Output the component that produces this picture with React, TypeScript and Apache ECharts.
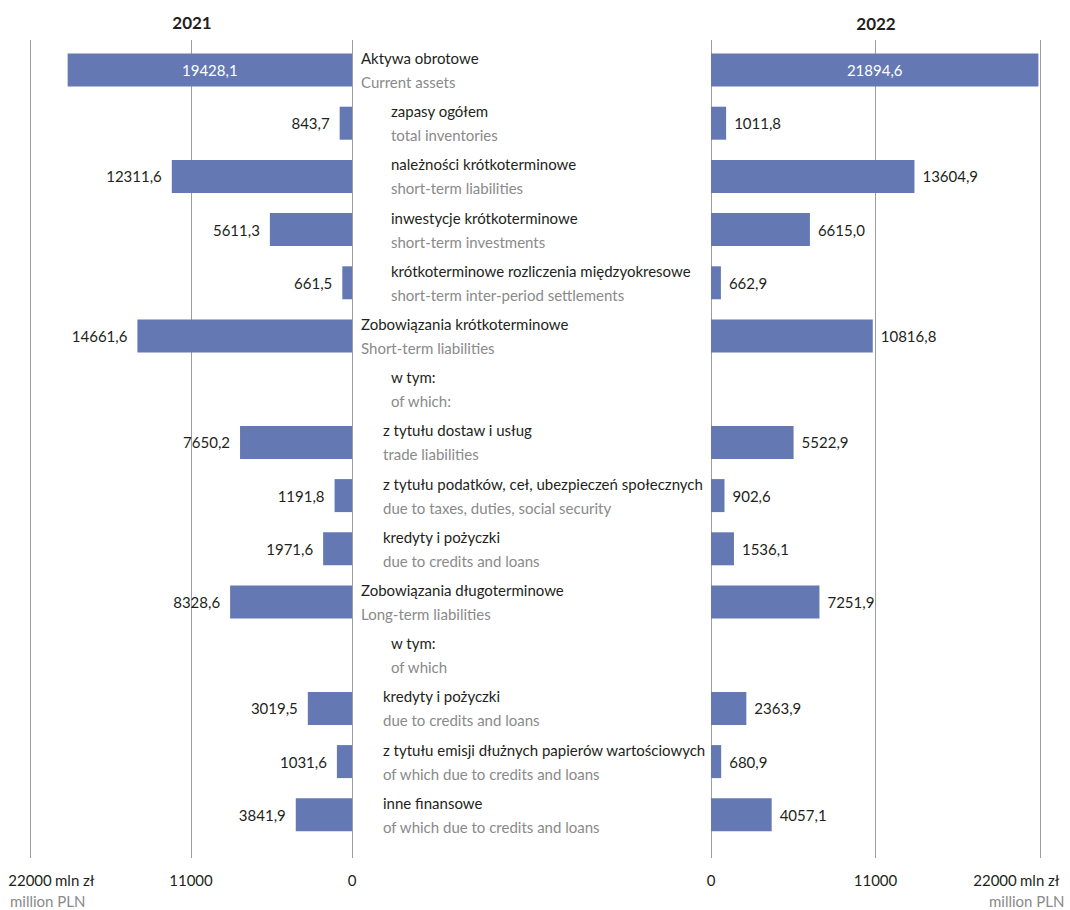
import React, { useEffect, useRef } from "react";
import * as echarts from "echarts";

const FONT = "Lato, 'Liberation Sans', sans-serif";
const FS = 15;
const BLACK = "#231f20";
const GRAY = "#8a8a8a";
const BAR = "#6479b3";

const years = ["2021", "2022"];
const categoriesPl = [
  "Aktywa obrotowe",
  "zapasy ogółem",
  "należności krótkoterminowe",
  "inwestycje krótkoterminowe",
  "krótkoterminowe rozliczenia międzyokresowe",
  "Zobowiązania krótkoterminowe",
  "w tym:",
  "z tytułu dostaw i usług",
  "z tytułu podatków, ceł, ubezpieczeń społecznych",
  "kredyty i pożyczki",
  "Zobowiązania długoterminowe",
  "w tym:",
  "kredyty i pożyczki",
  "z tytułu emisji dłużnych papierów wartościowych",
  "inne finansowe",
];
const categoriesEn = [
  "Current assets",
  "total inventories",
  "short-term liabilities",
  "short-term investments",
  "short-term inter-period settlements",
  "Short-term liabilities",
  "of which:",
  "trade liabilities",
  "due to taxes, duties, social security",
  "due to credits and loans",
  "Long-term liabilities",
  "of which",
  "due to credits and loans",
  "of which due to credits and loans",
  "of which due to credits and loans",
];
// hierarchy level of each row: 0 = main item, 1 = sub item, 2 = detail
const levels = [0, 1, 1, 1, 1, 0, 1, 2, 2, 2, 0, 1, 2, 2, 2];
const values2021 = [19428.1, 843.7, 12311.6, 5611.3, 661.5, 14661.6, null, 7650.2, 1191.8, 1971.6, 8328.6, null, 3019.5, 1031.6, 3841.9];
const values2022 = [21894.6, 1011.8, 13604.9, 6615.0, 662.9, 10816.8, null, 5522.9, 902.6, 1536.1, 7251.9, null, 2363.9, 680.9, 4057.1];
const axisMax = 22000;
const axisStep = 11000;
const unitPl = "mln zł";
const unitEn = "million PLN";

const levelIndent = [0, 30, 22];

const fmt = (v: number) => v.toFixed(1).replace(".", ",");

export default function App() {
  const ref = useRef<HTMLDivElement>(null);
  useEffect(() => {
    if (!ref.current) return;
    const chart = echarts.init(ref.current, null, { renderer: "svg" });
    const idx = categoriesPl.map((_, i) => String(i));

    const rich: any = {};
    levelIndent.forEach((p, l) => {
      rich["b" + l] = { fontFamily: FONT, fontSize: FS, color: BLACK, lineHeight: 24, padding: [0, 0, 0, p] };
      rich["g" + l] = { fontFamily: FONT, fontSize: FS, color: GRAY, lineHeight: 24, padding: [0, 0, 0, p] };
    });

    const makeData = (vals: (number | null)[]) =>
      vals.map((v, i) =>
        v == null
          ? "-"
          : i === 0
          ? { value: v, label: { position: "inside", color: "#ffffff" } }
          : { value: v }
      );

    const bgAxis = (inverse: boolean, right: boolean) => ({
      type: "value",
      min: 0,
      max: axisMax,
      interval: axisStep,
      inverse,
      axisLine: { show: false },
      axisTick: { show: false },
      splitLine: { show: true, lineStyle: { color: "#9d9d9d", width: 1 } },
      axisLabel: {
        fontFamily: FONT,
        fontSize: FS,
        color: BLACK,
        margin: 14,
        showMaxLabel: true,
        showMinLabel: true,
        formatter: (v: number) => (right && v === axisMax ? "{s|" + v + "}" : String(v)),
        rich: { s: { fontFamily: FONT, fontSize: FS, color: BLACK, padding: [0, 90, 0, 0] } },
      },
    });

    const option: any = {
      animation: false,
      textStyle: { fontFamily: FONT },
      grid: [
        { left: 30, width: 322, top: 40, height: 818 },
        { left: 711, width: 329, top: 40, height: 818 },
        { left: 30, width: 322, top: 43.4, height: 798 },
        { left: 711, width: 329, top: 43.4, height: 798 },
      ],
      xAxis: [
        { gridIndex: 0, ...bgAxis(true, false) },
        { gridIndex: 1, ...bgAxis(false, true) },
        { gridIndex: 2, type: "value", min: 0, max: axisMax, inverse: true, show: false },
        { gridIndex: 3, type: "value", min: 0, max: axisMax, show: false },
      ],
      yAxis: [
        { gridIndex: 0, type: "category", data: [""], show: false },
        { gridIndex: 1, type: "category", data: [""], show: false },
        {
          gridIndex: 2,
          type: "category",
          data: idx,
          inverse: true,
          position: "right",
          axisLine: { show: false },
          axisTick: { show: false },
          axisLabel: {
            interval: 0,
            margin: 9,
            align: "left",
            formatter: (_: string, i: number) =>
              "{b" + levels[i] + "|" + categoriesPl[i] + "}\n{g" + levels[i] + "|" + categoriesEn[i] + "}",
            rich,
          },
        },
        { gridIndex: 3, type: "category", data: idx, inverse: true, show: false },
      ],
      series: [
        {
          name: years[0],
          type: "bar",
          xAxisIndex: 2,
          yAxisIndex: 2,
          barWidth: 33,
          itemStyle: { color: BAR },
          label: {
            show: true,
            position: "left",
            distance: 10,
            fontFamily: FONT,
            fontSize: FS,
            color: BLACK,
            formatter: (p: any) => fmt(p.value),
          },
          data: makeData(values2021),
        },
        {
          name: years[1],
          type: "bar",
          xAxisIndex: 3,
          yAxisIndex: 3,
          barWidth: 33,
          itemStyle: { color: BAR },
          label: {
            show: true,
            position: "right",
            distance: 8,
            fontFamily: FONT,
            fontSize: FS,
            color: BLACK,
            formatter: (p: any) => fmt(p.value),
          },
          data: makeData(values2022),
        },
      ],
      graphic: [
        { type: "text", x: 192, y: 22, style: { text: years[0], fontFamily: FONT, fontSize: 17, fontWeight: "bold", fill: BLACK, textAlign: "center", textVerticalAlign: "middle" } },
        { type: "text", x: 876, y: 23, style: { text: years[1], fontFamily: FONT, fontSize: 17, fontWeight: "bold", fill: BLACK, textAlign: "center", textVerticalAlign: "middle" } },
        { type: "text", x: 55, y: 880, style: { text: unitPl, fontFamily: FONT, fontSize: FS, fill: BLACK, textVerticalAlign: "middle" } },
        { type: "text", x: 10, y: 901, style: { text: unitEn, fontFamily: FONT, fontSize: FS, fill: GRAY, textVerticalAlign: "middle" } },
        { type: "text", x: 1020, y: 880, style: { text: unitPl, fontFamily: FONT, fontSize: FS, fill: BLACK, textVerticalAlign: "middle" } },
        { type: "text", x: 989, y: 901, style: { text: unitEn, fontFamily: FONT, fontSize: FS, fill: GRAY, textVerticalAlign: "middle" } },
      ],
    };
    chart.setOption(option);
    return () => chart.dispose();
  }, []);
  return (
    <div
      ref={ref}
      style={{ position: "absolute", left: 0, top: 0, width: 1070, height: 910, background: "#ffffff" }}
    />
  );
}
